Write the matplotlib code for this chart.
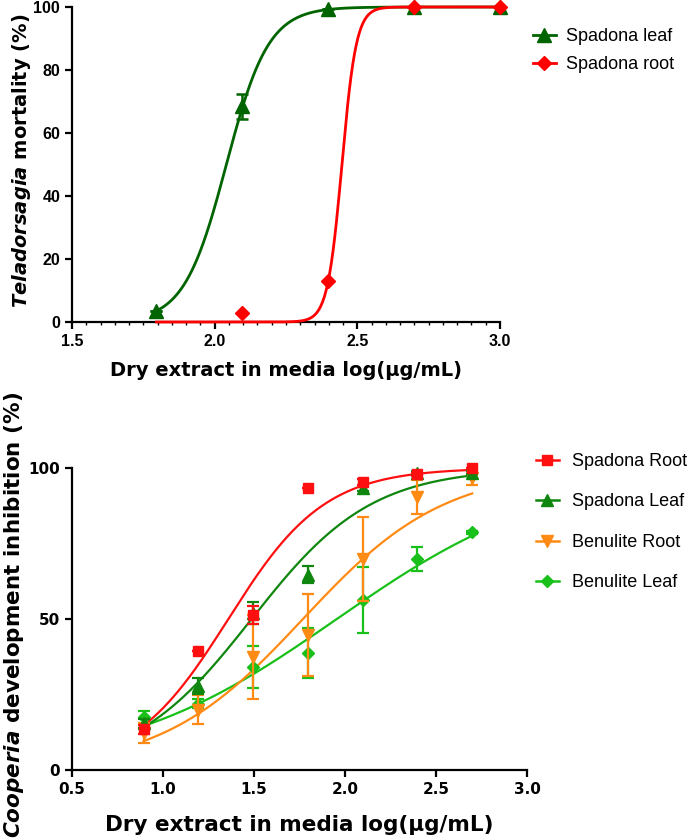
import numpy as np
import matplotlib
matplotlib.use("Agg")
import matplotlib.pyplot as plt
from matplotlib.lines import Line2D
from matplotlib.ticker import MultipleLocator

plt.rcParams['font.family'] = ['DejaVu Sans']
plt.rcParams['mathtext.fontset'] = 'custom'
plt.rcParams['mathtext.it'] = 'DejaVu Sans:italic:bold'
plt.rcParams['mathtext.rm'] = 'DejaVu Sans:bold'

# ---------------- Top chart data (Teladorsagia mortality) ----------------
top_x_leaf = [1.796, 2.097, 2.398, 2.699, 3.0]
top_y_leaf = [3.5, 68.5, 99.5, 100.0, 100.0]
top_err_leaf = [0.0, 4.0, 0.0, 0.0, 0.0]
top_x_root = [2.097, 2.398, 2.699, 3.0]
top_y_root = [3.0, 13.0, 100.0, 100.0]
top_err_root = [0.0, 0.0, 0.0, 0.0]
# Hill fit parameters: bottom, top, logEC50, hill slope
top_fit_leaf = (0.0, 100.0, 2.041, 5.87)
top_fit_root = (0.0, 100.0, 2.446, 17.2)
top_curve_range = (1.796, 3.0)
top_labels = ['Spadona leaf', 'Spadona root']

# ---------------- Bottom chart data (Cooperia development inhibition) ----
bot_x = [0.893, 1.194, 1.495, 1.796, 2.097, 2.398, 2.699]
sp_root = [13.5, 39.5, 51.3, 93.4, 95.4, 98.0, 100.0]
sp_root_err = [1.5, 0.0, 3.0, 0.0, 1.0, 0.5, 0.0]
sp_leaf = [15.5, 27.8, 52.0, 64.6, 93.5, 98.5, 98.5]
sp_leaf_err = [1.5, 2.5, 3.5, 2.8, 1.0, 0.5, 0.5]
be_root = [12.2, 19.9, 37.4, 44.7, 69.9, 90.4, 96.7]
be_root_err = [3.3, 4.8, 14.0, 13.5, 14.0, 5.7, 2.3]
be_leaf = [17.5, 22.0, 34.1, 38.7, 56.3, 69.9, 78.8]
be_leaf_err = [2.0, 1.5, 6.8, 8.4, 11.0, 4.0, 0.5]
fit_sp_root = (0.0, 100.0, 1.359, 1.64)
fit_sp_leaf = (0.0, 100.0, 1.487, 1.32)
fit_be_root = (0.0, 100.0, 1.769, 1.114)
fit_be_leaf = (0.0, 100.0, 1.955, 0.724)
bot_labels = ['Spadona Root', 'Spadona Leaf', 'Benulite Root', 'Benulite Leaf']


def hill(x, p):
    b, t, e, h = p
    return b + (t - b) / (1.0 + 10 ** ((e - x) * h))


W, H = 691, 840
fig = plt.figure(figsize=(W / 100, H / 100), dpi=100)

# ======================= TOP =======================
ax1 = fig.add_axes([72 / W, 1 - 322 / H, 428 / W, 315 / H])
c_dg = '#006400'
c_red = '#ff0000'
xc = np.linspace(top_curve_range[0], top_curve_range[1], 400)
ax1.plot(xc, hill(xc, top_fit_leaf), color=c_dg, lw=2.0, clip_on=False, zorder=3)
ax1.errorbar(top_x_leaf, top_y_leaf, yerr=top_err_leaf, fmt='^', color=c_dg,
             ms=10, capsize=4, elinewidth=1.8, capthick=1.8, clip_on=False, zorder=4)
ax1.plot(xc, hill(xc, top_fit_root), color=c_red, lw=2.0, clip_on=False, zorder=5)
ax1.errorbar(top_x_root, top_y_root, yerr=top_err_root, fmt='D', color=c_red,
             ms=7.5, capsize=4, elinewidth=1.8, capthick=1.8, clip_on=False, zorder=6)
ax1.set_xlim(1.5, 3.0)
ax1.set_ylim(0, 100)
ax1.set_xticks([1.5, 2.0, 2.5, 3.0])
ax1.set_xticklabels(['1.5', '2.0', '2.5', '3.0'])
ax1.xaxis.set_minor_locator(MultipleLocator(0.05))
ax1.set_yticks([0, 20, 40, 60, 80, 100])
for s in ['top', 'right']:
    ax1.spines[s].set_visible(False)
for s in ['left', 'bottom']:
    ax1.spines[s].set_linewidth(1.6)
ax1.tick_params(axis='both', which='major', length=5, width=1.6, labelsize=11.5)
ax1.tick_params(axis='x', which='minor', length=2.5, width=1.0)
for lab in ax1.get_xticklabels() + ax1.get_yticklabels():
    lab.set_fontweight('bold')
    lab.set_family(['Liberation Sans', 'DejaVu Sans'])
ax1.set_xlabel('Dry extract in media log(µg/mL)', fontsize=14, fontweight='bold')
ax1.set_ylabel(r'$\mathit{Teladorsagia}$ mortality (%)', fontsize=14, fontweight='bold')
ax1.xaxis.set_label_coords(0.5, -0.125)
ax1.yaxis.set_label_coords(-0.09, 0.512)

h_top = [Line2D([], [], color=c_dg, marker='^', ms=10, lw=2.0),
         Line2D([], [], color=c_red, marker='D', ms=7.5, lw=2.0)]
fig.legend(h_top, top_labels, loc='upper left', bbox_to_anchor=(533 / W, 1 - 28 / H),
           frameon=False, prop={'family': 'Liberation Sans', 'size': 13},
           handlelength=1.25, handletextpad=0.55, labelspacing=0.6, borderpad=0,
           borderaxespad=0)

# ======================= BOTTOM =======================
ax2 = fig.add_axes([72 / W, 1 - 770 / H, 455 / W, 302 / H])
series = [
    (be_leaf, be_leaf_err, fit_be_leaf, '#19c019', 'D', 6.0),
    (be_root, be_root_err, fit_be_root, '#ff8a14', 'v', 8.0),
    (sp_leaf, sp_leaf_err, fit_sp_leaf, '#0f870f', '^', 8.0),
    (sp_root, sp_root_err, fit_sp_root, '#ff1010', 's', 7.5),
]
xb = np.linspace(min(bot_x), max(bot_x), 400)
for i, (y, e, p, c, m, ms) in enumerate(series):
    ax2.plot(xb, hill(xb, p), color=c, lw=1.6, zorder=2 + i, clip_on=False)
    ax2.errorbar(bot_x, y, yerr=e, fmt=m, color=c, ms=ms, capsize=4,
                 elinewidth=1.6, capthick=1.6, zorder=6 + i, clip_on=False)
ax2.set_xlim(0.5, 3.0)
ax2.set_ylim(0, 100)
ax2.set_xticks([0.5, 1.0, 1.5, 2.0, 2.5, 3.0])
ax2.set_xticklabels(['0.5', '1.0', '1.5', '2.0', '2.5', '3.0'])
ax2.set_yticks([0, 50, 100])
for s in ['top', 'right']:
    ax2.spines[s].set_visible(False)
for s in ['left', 'bottom']:
    ax2.spines[s].set_linewidth(1.6)
ax2.tick_params(axis='both', which='major', length=5, width=1.6, labelsize=11)
for lab in ax2.get_xticklabels() + ax2.get_yticklabels():
    lab.set_fontweight('bold')
ax2.set_xlabel('Dry extract in media log(µg/mL)', fontsize=15.5, fontweight='bold')
ax2.set_ylabel(r'$\mathit{Cooperia}$ development inhibition (%)', fontsize=15.5,
               fontweight='bold')
ax2.xaxis.set_label_coords(0.5, -0.148)
ax2.yaxis.set_label_coords(-0.102, 0.513)

leg_order = [3, 2, 1, 0]
h_bot = [Line2D([], [], color=series[k][3], marker=series[k][4], ms=series[k][5], lw=1.8)
         for k in leg_order]
fig.legend(h_bot, bot_labels, loc='upper left', bbox_to_anchor=(536 / W, 1 - 453 / H),
           frameon=False, prop={'family': 'Liberation Sans', 'size': 13},
           handlelength=1.25, handletextpad=0.75, labelspacing=1.3, borderpad=0,
           borderaxespad=0)

fig.savefig('out.png', dpi=100)
